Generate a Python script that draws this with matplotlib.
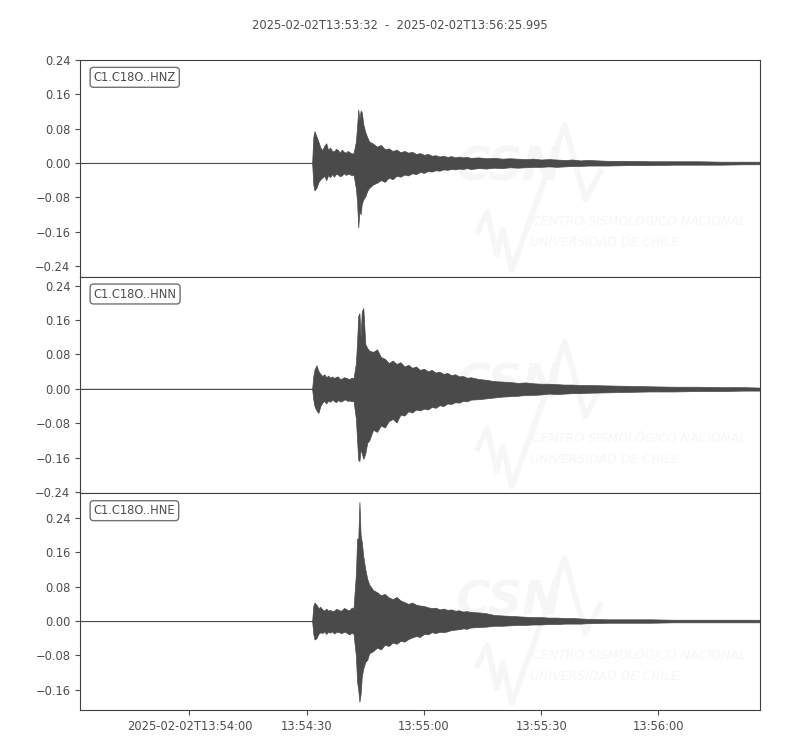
import matplotlib
matplotlib.use("Agg")
import matplotlib.pyplot as plt
from matplotlib.ticker import MultipleLocator

# seconds after 2025-02-02T13:53:32, envelope of the traces
t_env = ([0, 10, 20, 30, 40, 50]
         + [59.4, 59.7, 60, 60.5, 61, 61.5, 62, 62.5, 63, 63.5, 64, 64.5, 65,
            65.5, 66, 66.5, 67, 67.5, 68, 68.5, 69, 69.5, 70]
         + [70.6, 70.9, 71.2, 71.5, 71.8, 72.1, 72.5, 73, 73.5]
         + list(range(74, 101))
         + list(range(102, 131, 2))
         + [135, 140, 146, 152, 158, 164, 170, 174])

hnz_upper = [0.0005] * 6 + [
    0.0005, 0.060, 0.074, 0.062, 0.050, 0.036, 0.030, 0.040, 0.046, 0.030, 0.036, 0.028,
    0.027, 0.033, 0.030, 0.024, 0.031, 0.026, 0.024, 0.028, 0.025, 0.022, 0.023,
    0.050, 0.085, 0.125, 0.100, 0.122, 0.118, 0.090, 0.072, 0.060,
    0.050, 0.045, 0.038, 0.042, 0.032, 0.034, 0.028, 0.031, 0.025, 0.028, 0.024, 0.026,
    0.021, 0.023, 0.019, 0.021, 0.017, 0.018, 0.015, 0.017, 0.014, 0.016, 0.013, 0.015,
    0.013, 0.014, 0.012,
    0.013, 0.011, 0.012, 0.010, 0.011, 0.010, 0.009, 0.010, 0.008, 0.009, 0.008, 0.007,
    0.008, 0.006, 0.007,
    0.005, 0.005, 0.004, 0.004, 0.004, 0.003, 0.003, 0.003]
hnz_lower = [-0.0005] * 6 + [
    -0.0005, -0.050, -0.064, -0.058, -0.045, -0.038, -0.034, -0.030, -0.040, -0.028, -0.033, -0.026,
    -0.032, -0.025, -0.027, -0.031, -0.029, -0.024, -0.028, -0.025, -0.026, -0.029, -0.027,
    -0.060, -0.090, -0.150, -0.110, -0.120, -0.095, -0.085, -0.078, -0.065,
    -0.058, -0.050, -0.046, -0.040, -0.044, -0.034, -0.038, -0.030, -0.032, -0.027, -0.029, -0.024,
    -0.026, -0.021, -0.023, -0.019, -0.020, -0.017, -0.018, -0.015, -0.016, -0.014, -0.015, -0.013,
    -0.014, -0.012, -0.014,
    -0.012, -0.013, -0.011, -0.012, -0.010, -0.011, -0.010, -0.009, -0.009, -0.008, -0.009, -0.008,
    -0.007, -0.007, -0.006,
    -0.006, -0.005, -0.005, -0.004, -0.004, -0.004, -0.003, -0.003]

hnn_upper = [0.0005] * 6 + [
    0.0005, 0.030, 0.045, 0.055, 0.042, 0.035, 0.030, 0.034, 0.027, 0.031, 0.026, 0.029,
    0.025, 0.028, 0.029, 0.023, 0.024, 0.027, 0.026, 0.024, 0.023, 0.026, 0.025,
    0.060, 0.110, 0.170, 0.176, 0.120, 0.180, 0.188, 0.104, 0.095,
    0.089, 0.086, 0.092, 0.074, 0.070, 0.060, 0.066, 0.058, 0.062, 0.052, 0.056, 0.049,
    0.052, 0.044, 0.047, 0.041, 0.044, 0.038, 0.040, 0.035, 0.037, 0.032, 0.034, 0.029,
    0.030, 0.026, 0.027,
    0.023, 0.021, 0.018, 0.017, 0.016, 0.014, 0.015, 0.013, 0.012, 0.012, 0.011, 0.010,
    0.010, 0.009, 0.009,
    0.008, 0.007, 0.006, 0.005, 0.005, 0.004, 0.004, 0.003]
hnn_lower = [-0.0005] * 6 + [
    -0.0005, -0.025, -0.040, -0.050, -0.056, -0.040, -0.032, -0.028, -0.034, -0.027, -0.030, -0.025,
    -0.028, -0.031, -0.026, -0.029, -0.029, -0.025, -0.025, -0.028, -0.027, -0.029, -0.028,
    -0.070, -0.120, -0.165, -0.168, -0.140, -0.150, -0.163, -0.150, -0.125,
    -0.120, -0.095, -0.100, -0.085, -0.090, -0.075, -0.070, -0.078, -0.060, -0.062, -0.052, -0.055,
    -0.048, -0.050, -0.046, -0.048, -0.042, -0.044, -0.038, -0.040, -0.034, -0.035, -0.031, -0.032,
    -0.028, -0.029, -0.025,
    -0.024, -0.022, -0.020, -0.018, -0.017, -0.016, -0.014, -0.014, -0.013, -0.011, -0.012, -0.011,
    -0.010, -0.010, -0.009,
    -0.008, -0.007, -0.006, -0.006, -0.005, -0.005, -0.004, -0.004]

hne_upper = [0.0005] * 6 + [
    0.0005, 0.035, 0.043, 0.038, 0.030, 0.033, 0.027, 0.024, 0.029, 0.024, 0.026, 0.023,
    0.024, 0.028, 0.027, 0.024, 0.025, 0.030, 0.029, 0.025, 0.026, 0.031, 0.031,
    0.110, 0.192, 0.190, 0.277, 0.200, 0.184, 0.150, 0.120, 0.098,
    0.085, 0.072, 0.067, 0.060, 0.063, 0.055, 0.051, 0.056, 0.048, 0.044, 0.040, 0.043,
    0.038, 0.036, 0.035, 0.032, 0.030, 0.031, 0.027, 0.029, 0.026, 0.027, 0.024, 0.025,
    0.022, 0.023, 0.021,
    0.020, 0.018, 0.014, 0.013, 0.012, 0.011, 0.010, 0.009, 0.009, 0.008, 0.008, 0.007,
    0.007, 0.006, 0.005,
    0.004, 0.004, 0.004, 0.003, 0.003, 0.003, 0.003, 0.003]
hne_lower = [-0.0005] * 6 + [
    -0.0005, -0.030, -0.043, -0.040, -0.030, -0.026, -0.028, -0.024, -0.030, -0.025, -0.027, -0.024,
    -0.029, -0.026, -0.025, -0.027, -0.028, -0.025, -0.026, -0.029, -0.031, -0.027, -0.030,
    -0.082, -0.141, -0.160, -0.188, -0.170, -0.129, -0.110, -0.095, -0.090,
    -0.075, -0.070, -0.062, -0.066, -0.055, -0.058, -0.050, -0.053, -0.046, -0.048, -0.042, -0.038,
    -0.035, -0.037, -0.030, -0.031, -0.026, -0.028, -0.025, -0.026, -0.024, -0.021, -0.020, -0.019,
    -0.017, -0.018, -0.015,
    -0.014, -0.013, -0.011, -0.011, -0.010, -0.009, -0.009, -0.008, -0.008, -0.007, -0.007, -0.006,
    -0.006, -0.006, -0.005,
    -0.004, -0.004, -0.004, -0.003, -0.003, -0.003, -0.003, -0.003]

channels = ["C1.C18O..HNZ", "C1.C18O..HNN", "C1.C18O..HNE"]
uppers = [hnz_upper, hnn_upper, hne_upper]
lowers = [hnz_lower, hnn_lower, hne_lower]
ylims = [(-0.265, 0.240), (-0.243, 0.261), (-0.207, 0.297)]

tick_pos = [28, 58, 88, 118, 148]
tick_labels = ["2025-02-02T13:54:00", "13:54:30", "13:55:00", "13:55:30", "13:56:00"]
title = "2025-02-02T13:53:32  -  2025-02-02T13:56:25.995"
duration = 173.995

wave_color = "#4a4a4a"
text_color = "#4d4d4d"
mark_color = "#f6f6f6"

# CSN watermark, drawn in axes fractions
logo_x = [0.585, 0.599, 0.613, 0.622, 0.635, 0.713, 0.743, 0.765]
logo_y = [0.207, 0.300, 0.101, 0.217, 0.032, 0.700, 0.355, 0.484]


def draw_watermark(ax):
    ax.plot(logo_x, logo_y, color=mark_color, lw=4, transform=ax.transAxes, zorder=0)
    ax.text(0.63, 0.50, "CSN", transform=ax.transAxes, color=mark_color,
            fontsize=34, fontweight="bold", style="italic", ha="center", va="center",
            zorder=0, clip_on=True)
    ax.text(0.665, 0.253, "CENTRO SISMOLÓGICO NACIONAL", transform=ax.transAxes,
            color=mark_color, fontsize=9, style="italic", ha="left", va="center",
            zorder=0, clip_on=True)
    ax.text(0.662, 0.157, "UNIVERSIDAD DE CHILE", transform=ax.transAxes,
            color=mark_color, fontsize=9, style="italic", ha="left", va="center",
            zorder=0, clip_on=True)


fig, axes = plt.subplots(3, 1, figsize=(8, 7.5), dpi=100, sharex=True)
fig.subplots_adjust(left=0.1, right=0.95, top=0.92, bottom=0.0533, hspace=0)

for ax, name, up, low, yl in zip(axes, channels, uppers, lowers, ylims):
    draw_watermark(ax)
    ax.fill_between(t_env, low, up, color=wave_color, lw=0.5, zorder=2)
    ax.set_ylim(*yl)
    ax.set_xlim(0, duration)
    ax.yaxis.set_major_locator(MultipleLocator(0.08))
    ax.tick_params(labelsize=8.3, colors=text_color, length=3.5)
    for sp in ax.spines.values():
        sp.set_color("#404040")
    ax.text(0.02, 0.95, name, transform=ax.transAxes, fontsize=8.3, color=text_color,
            ha="left", va="top",
            bbox=dict(boxstyle="round", fc="w", ec=text_color, alpha=0.8))

axes[-1].set_xticks(tick_pos)
axes[-1].set_xticklabels(tick_labels)

fig.suptitle(title, fontsize=8.3, color=text_color, y=0.975)

fig.savefig("out.png", dpi=100)
